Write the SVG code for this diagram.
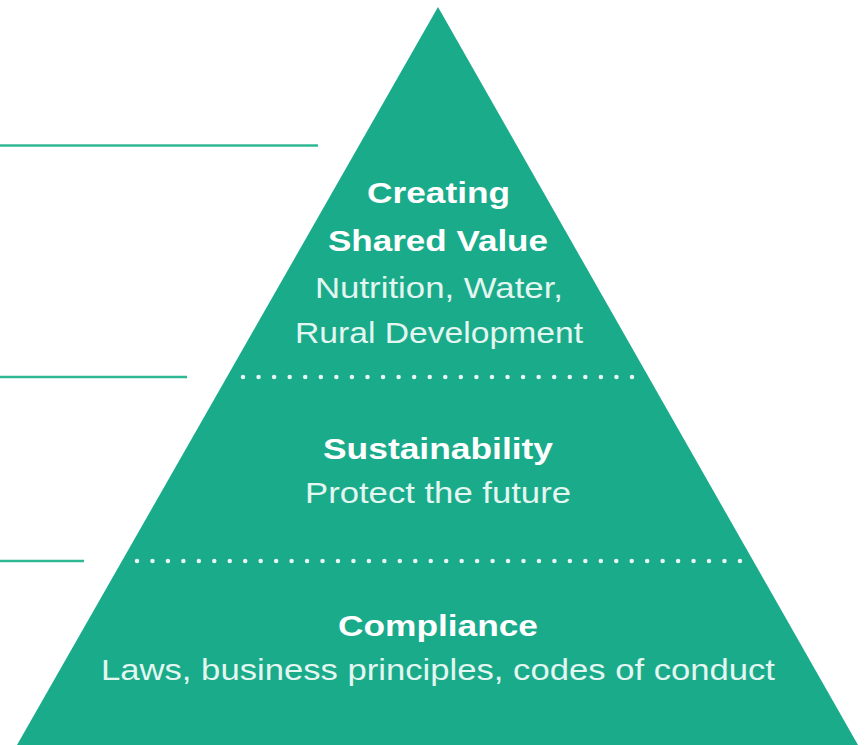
<svg xmlns="http://www.w3.org/2000/svg" width="865" height="745" viewBox="0 0 865 745">
<style>
.t{font-family:"Liberation Sans",Arial,sans-serif;font-size:29px;text-anchor:middle}
.b{font-weight:bold;fill:#ffffff}
.r{fill:#e3f6f0}
.lead{stroke:#2fb894;stroke-width:2.5;fill:none}
.dots{stroke:#ffffff;stroke-width:4.5;stroke-linecap:round;fill:none;opacity:0.9}
</style>
<rect width="865" height="745" fill="#ffffff"/>
<g id="pyramid">
<polygon points="438,7 17,745 858,745" fill="#1aab8b"/>
</g>
<g id="connectors">
<line class="lead" x1="0" y1="145.5" x2="318" y2="145.5"/>
<line class="lead" x1="0" y1="377" x2="187" y2="377"/>
<line class="lead" x1="0" y1="561" x2="84" y2="561"/>
<line class="dots" x1="243" y1="377" x2="634" y2="377" stroke-dasharray="0 15.56"/>
<line class="dots" x1="137" y1="561" x2="742" y2="561" stroke-dasharray="0 15.46"/>
</g>
<g id="tier-top">
<text class="t b" x="438.5" y="203" textLength="143" lengthAdjust="spacingAndGlyphs">Creating</text>
<text class="t b" x="438" y="251" textLength="220" lengthAdjust="spacingAndGlyphs">Shared Value</text>
<text class="t r" x="439" y="298" textLength="248" lengthAdjust="spacingAndGlyphs">Nutrition, Water,</text>
<text class="t r" x="439" y="343" textLength="288" lengthAdjust="spacingAndGlyphs">Rural Development</text>
</g>
<g id="tier-middle">
<text class="t b" x="438" y="459" textLength="230" lengthAdjust="spacingAndGlyphs">Sustainability</text>
<text class="t r" x="438" y="503" textLength="266" lengthAdjust="spacingAndGlyphs">Protect the future</text>
</g>
<g id="tier-bottom">
<text class="t b" x="438" y="636" textLength="200" lengthAdjust="spacingAndGlyphs">Compliance</text>
<text class="t r" x="438" y="680" textLength="674" lengthAdjust="spacingAndGlyphs">Laws, business principles, codes of conduct</text>
</g>
</svg>
